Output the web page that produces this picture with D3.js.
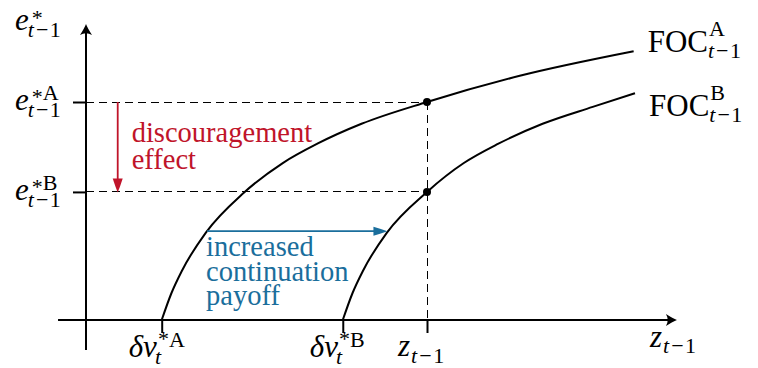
<!DOCTYPE html>
<html>
<head>
<meta charset="utf-8">
<script src="https://cdn.jsdelivr.net/npm/d3@7"></script>
<style>
  html, body { margin: 0; padding: 0; background: #fff; }
</style>
</head>
<body>
<svg id="chart" width="758" height="368"></svg>
<script>
// Threshold values on the z axis and equilibrium effort levels
const thresholdA = 2.22;   // δv*A
const thresholdB = 7.53;   // δv*B
const zLevel = 10;         // z_{t-1}
const effortA = 4.0;       // e*A
const effortB = 2.35;      // e*B

// First-order-condition curves, [z, e] pairs
const focA = [[2.22, 0], [2.51, 0.50], [2.81, 0.90], [3.51, 1.60], [4.62, 2.33], [5.77, 2.88],
              [6.77, 3.23], [8.08, 3.60], [10.0, 4.0], [12.72, 4.48], [16.06, 4.93]];
const focB = [[7.53, 0], [7.82, 0.50], [8.12, 0.90], [8.82, 1.60], [10.0, 2.35], [11.08, 2.88],
              [12.08, 3.23], [13.39, 3.60], [14.86, 3.91], [16.10, 4.16]];

// Axis extents in data units
const xAxisRange = [-0.82, 17.33];
const yAxisRange = [-0.55, 5.43];

// Annotation arrows
const discouragementX = 0.93;
const continuationY = 1.63;
const continuationFrom = 3.55;
const continuationTo = 8.84;

const RED = "#c0142a";
const BLUE = "#1a6e9c";
const FONT = "'Liberation Serif', Tinos, 'DejaVu Serif', 'Noto Serif', serif";

const svg = d3.select("#chart").style("font-family", FONT);
const x = d3.scaleLinear().domain([0, 10]).range([86, 427]);
const y = d3.scaleLinear().domain([0, 4]).range([320, 102]);

// Math-style label: one text element, pieces placed as tspans with baseline shifts
function mathLabel(g, x0, b, parts, color) {
  const text = g.append("text").attr("fill", color || "#000").attr("font-family", FONT);
  let cx = x0, mark = x0;
  parts.forEach(p => {
    if (p.mark) mark = cx;
    if (p.fromMark) cx = mark;
    cx += p.dx || 0;
    const t = text.append("tspan")
      .attr("x", cx).attr("y", b + (p.dy || 0))
      .attr("font-size", p.size)
      .attr("font-style", p.it ? "italic" : "normal")
      .text(p.s);
    cx += t.node().getComputedTextLength();
  });
}
const SUB = 22, MAIN = 31;
function tMinusOne(dy, fromMark, dx) {
  return [
    { s: "t", it: true, size: SUB, dy: dy, fromMark: fromMark, dx: dx || 0 },
    { s: "−", size: SUB, dy: dy, dx: 2 },
    { s: "1", size: SUB, dy: dy, dx: 1.5 }
  ];
}

// Dashed guide lines
const guides = svg.append("g").attr("stroke", "#000").attr("stroke-width", 1)
  .attr("stroke-dasharray", "8,5").attr("fill", "none").attr("shape-rendering", "crispEdges");
[effortA, effortB].forEach(e => {
  guides.append("line").attr("x1", x(0)).attr("x2", x(zLevel)).attr("y1", y(e)).attr("y2", y(e));
});
guides.append("line").attr("x1", x(zLevel)).attr("x2", x(zLevel)).attr("y1", y(effortA)).attr("y2", y(0));

// FOC curves
const line = d3.line().x(d => x(d[0])).y(d => y(d[1])).curve(d3.curveMonotoneX);
[focA, focB].forEach(c => {
  svg.append("path").datum(c).attr("d", line)
    .attr("fill", "none").attr("stroke", "#000").attr("stroke-width", 2);
});

// Axes
const axisHead = "M0,0 Q-4,-1.5 -11,-6 Q-7.5,0 -11,6 Q-4,1.5 0,0 Z";
svg.append("line").attr("x1", x(xAxisRange[0])).attr("x2", x(xAxisRange[1]) - 5)
  .attr("y1", y(0)).attr("y2", y(0)).attr("stroke", "#000").attr("stroke-width", 2);
svg.append("path").attr("d", axisHead)
  .attr("transform", `translate(${x(xAxisRange[1])},${y(0)})`).attr("fill", "#000");
svg.append("line").attr("x1", x(0)).attr("x2", x(0))
  .attr("y1", y(yAxisRange[0])).attr("y2", y(yAxisRange[1]) + 5).attr("stroke", "#000").attr("stroke-width", 2);
svg.append("path").attr("d", axisHead)
  .attr("transform", `translate(${x(0)},${y(yAxisRange[1])}) rotate(-90)`).attr("fill", "#000");

// Tick marks
const xTicks = svg.append("g").attr("transform", `translate(0,${y(0)})`)
  .call(d3.axisBottom(x).tickValues([thresholdA, thresholdB, zLevel]).tickSize(13).tickFormat(""));
const yTicks = svg.append("g").attr("transform", `translate(${x(0)},0)`)
  .call(d3.axisLeft(y).tickValues([effortA, effortB]).tickSize(13).tickFormat(""));
[xTicks, yTicks].forEach(a => {
  a.select(".domain").remove();
  a.selectAll(".tick line").attr("stroke", "#000").attr("stroke-width", 2);
});

// Intersection dots
[effortA, effortB].forEach(e => {
  svg.append("circle").attr("cx", x(zLevel)).attr("cy", y(e)).attr("r", 4).attr("fill", "#000");
});

// Annotation arrows
function arrowHead(g, px, py, angle, len, half, color) {
  g.append("path")
    .attr("d", `M0,0 Q${-len * 0.5},${-half * 0.55} ${-len},${-half} L${-len},${half} Q${-len * 0.5},${half * 0.55} 0,0 Z`)
    .attr("transform", `translate(${px},${py}) rotate(${angle})`)
    .attr("fill", color);
}
svg.append("line").attr("x1", x(discouragementX)).attr("x2", x(discouragementX))
  .attr("y1", y(effortA)).attr("y2", y(effortB) - 10)
  .attr("stroke", RED).attr("stroke-width", 1.8);
arrowHead(svg, x(discouragementX), y(effortB) + 0.5, 90, 14, 5, RED);

svg.append("line").attr("x1", x(continuationFrom)).attr("x2", x(continuationTo) - 10)
  .attr("y1", y(continuationY)).attr("y2", y(continuationY))
  .attr("stroke", BLUE).attr("stroke-width", 1.8);
arrowHead(svg, x(continuationTo), y(continuationY), 0, 14, 4.5, BLUE);

// Annotation text
const red = svg.append("g").attr("fill", RED);
["discouragement", "effect"].forEach((s, i) => {
  red.append("text").attr("font-family", FONT).attr("font-size", 28.5)
    .attr("x", x(discouragementX) + 14).attr("y", y(effortA) + 40 + i * 26.5).text(s);
});
const blue = svg.append("g").attr("fill", BLUE);
["increased", "continuation", "payoff"].forEach((s, i) => {
  blue.append("text").attr("font-family", FONT).attr("font-size", 28.5)
    .attr("x", x(continuationFrom) - 1).attr("y", y(continuationY) + 25 + i * 24.5).text(s);
});

// Axis titles and tick labels
const labels = svg.append("g");
// vertical axis title
mathLabel(labels, x(0) - 71, y(yAxisRange[1]) + 6, [
  { s: "e", it: true, size: MAIN },
  { s: "*", size: 22, dy: -5, dx: 3, mark: true },
  ...tMinusOne(7, true, -1)
]);
// effort tick labels
[[effortA, "A"], [effortB, "B"]].forEach(([e, k]) => {
  const b = y(e) + 8;
  mathLabel(labels, x(0) - 71, b, [
    { s: "e", it: true, size: MAIN },
    { s: "*", size: 22, dy: -6, dx: 3, mark: true },
    { s: k, size: 22, dy: -10 },
    ...tMinusOne(7, true, -1)
  ]);
});
// threshold tick labels
[[thresholdA, "A"], [thresholdB, "B"]].forEach(([v, k]) => {
  const b = y(0) + 37;
  mathLabel(labels, x(v) - 33, b, [
    { s: "δ", it: true, size: MAIN },
    { s: "v", it: true, size: MAIN },
    { s: "*", size: 22, dy: -11, dx: 1, mark: true },
    { s: k, size: 22, dy: -10 },
    { s: "t", it: true, size: SUB, dy: 7, fromMark: true, dx: -2 }
  ]);
});
// z tick label
mathLabel(labels, x(zLevel) - 29, y(0) + 36, [
  { s: "z", it: true, size: MAIN },
  ...tMinusOne(7, false, 1)
]);
// horizontal axis title
mathLabel(labels, x(xAxisRange[1]) - 27, y(0) + 27, [
  { s: "z", it: true, size: MAIN },
  ...tMinusOne(6, false, 1)
]);
// curve labels
[[focA, "A", 52], [focB, "B", 116]].forEach(([c, k, b]) => {
  const end = c[c.length - 1];
  mathLabel(labels, x(end[0]) + 14, b, [
    { s: "FOC", size: MAIN },
    { s: k, size: SUB, dy: -16, dx: 1, mark: true },
    ...tMinusOne(6, true, 0)
  ]);
});
</script>
</body>
</html>
